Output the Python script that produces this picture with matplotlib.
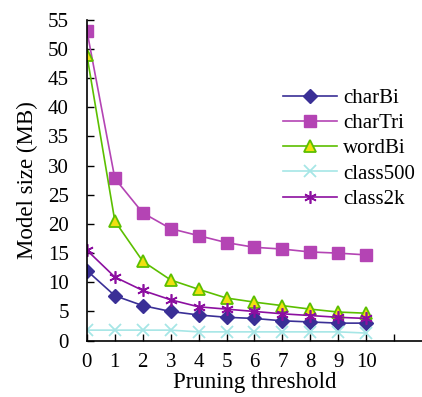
import matplotlib
matplotlib.use('Agg')
import matplotlib.pyplot as plt

plt.rcParams['font.family'] = ['Liberation Serif', 'DejaVu Serif']

# Limiar de poda (eixo x)
thresholds = [0, 1, 2, 3, 4, 5, 6, 7, 8, 9, 10]

# Tamanho do modelo (MB) por série
charBi = [12.0, 7.7, 6.0, 5.0, 4.4, 4.0, 3.8, 3.4, 3.2, 3.0, 3.0]
charTri = [53.1, 27.8, 21.9, 19.2, 18.0, 16.8, 16.0, 15.7, 15.2, 15.0, 14.7]
wordBi = [48.9, 20.5, 13.6, 10.4, 8.8, 7.3, 6.6, 6.0, 5.4, 4.9, 4.7]
class500 = [1.8, 1.8, 1.8, 1.8, 1.5, 1.5, 1.5, 1.5, 1.5, 1.5, 1.3]
class2k = [15.5, 10.9, 8.6, 7.0, 5.8, 5.4, 5.0, 4.6, 4.3, 4.0, 3.8]

x_ticks = list(range(12))
x_tick_labels = [str(t) for t in thresholds] + ['']
y_ticks = list(range(0, 56, 5))

fig = plt.figure(figsize=(4.22, 3.97), dpi=100)
ax = fig.add_axes([0.206, 0.142, 0.794, 0.808])

ax.plot(thresholds, charBi, color='#3a2f96', marker='D', markersize=7,
        linewidth=1.2, label='charBi')
ax.plot(thresholds, charTri, color='#b444b4', marker='s', markersize=9,
        linewidth=1.2, label='charTri')
ax.plot(thresholds, wordBi, color='#5cbf00', marker='^', markersize=8,
        markerfacecolor='#f0e010', markeredgecolor='#5cbf00', markeredgewidth=1.3,
        linewidth=1.2, label='wordBi')
ax.plot(thresholds, class500, color='#a6e6e6', marker='x', markersize=8,
        markeredgewidth=1.3, linewidth=1.2, label='class500')
ax.plot(thresholds, class2k, color='#8c0fa0', marker=(6, 2, 0), markersize=9,
        markeredgewidth=1.2, linewidth=1.2, label='class2k')

ax.set_xlim(0, 12)
ax.set_ylim(0, 55)
ax.set_xticks(x_ticks)
ax.set_xticklabels(x_tick_labels)
ax.set_yticks(y_ticks)
ax.tick_params(direction='in', length=5, width=1, labelsize=15)
ax.tick_params(axis='x', pad=9)
ax.tick_params(axis='y', pad=13)

for side in ['top', 'right']:
    ax.spines[side].set_visible(False)
for side in ['left', 'bottom']:
    ax.spines[side].set_linewidth(1.2)

ax.set_xlabel('Pruning threshold', fontsize=16.5, labelpad=0)
ax.set_ylabel('Model size (MB)', fontsize=16.5, labelpad=7)

ax.legend(loc='upper left', bbox_to_anchor=(0.56, 0.812), frameon=False,
          fontsize=15, handlelength=2.6, handletextpad=0.3, labelspacing=0.27,
          borderaxespad=0)

fig.savefig('out.png', dpi=100)
